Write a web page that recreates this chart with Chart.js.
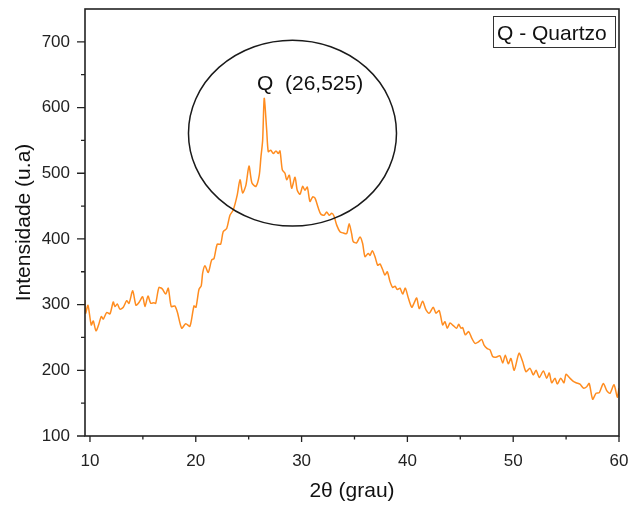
<!DOCTYPE html>
<html>
<head>
<meta charset="utf-8">
<script src="https://cdn.jsdelivr.net/npm/chart.js@4.4.1/dist/chart.umd.min.js"></script>
<style>
  html, body { margin: 0; padding: 0; background: #fff; }
  #wrap { width: 628px; height: 506px; }
</style>
</head>
<body>
<div id="wrap"><canvas id="xrd" width="628" height="506"></canvas></div>
<script>
var twoTheta = [9.53, 9.59, 9.81, 10.12, 10.31, 10.57, 10.85, 11.07, 11.26, 11.58, 11.89, 12.20, 12.36, 12.58, 12.84,
  13.15, 13.47, 13.69, 14.04, 14.35, 14.66, 14.98, 15.20, 15.48, 15.74, 16.05, 16.21, 16.52, 16.83, 17.16,
  17.40, 17.68, 18.01, 18.25, 18.67, 19.05, 19.45, 19.83, 20.02, 20.30, 20.52, 20.65, 20.87, 21.18, 21.50,
  21.72, 22.03, 22.35, 22.59, 22.92, 23.23, 23.54, 23.92, 24.18, 24.43, 24.74, 25.03, 25.31, 25.69, 26.00,
  26.16, 26.32, 26.47, 26.70, 26.85, 27.08, 27.33, 27.58, 27.80, 27.96, 28.18, 28.43, 28.59, 28.84, 29.06,
  29.38, 29.59, 29.85, 30.10, 30.32, 30.54, 30.79, 31.05, 31.27, 31.58, 31.81, 32.12, 32.37, 32.62, 32.85,
  33.06, 33.32, 33.63, 33.94, 34.26, 34.50, 34.73, 34.88, 35.20, 35.52, 35.77, 35.99, 36.30, 36.47, 36.68,
  36.94, 37.19, 37.41, 37.67, 37.88, 38.10, 38.36, 38.61, 38.83, 39.05, 39.30, 39.56, 39.80, 40.09, 40.41,
  40.62, 40.88, 41.12, 41.44, 41.76, 42.07, 42.44, 42.70, 43.01, 43.33, 43.55, 43.77, 44.03, 44.34, 44.66,
  44.85, 45.07, 45.23, 45.47, 45.79, 46.08, 46.39, 46.70, 47.02, 47.26, 47.55, 47.81, 48.06, 48.37, 48.75,
  49.01, 49.25, 49.54, 49.79, 50.10, 50.55, 50.90, 51.21, 51.59, 51.90, 52.16, 52.47, 52.85, 53.17, 53.41,
  53.64, 53.95, 54.17, 54.49, 54.80, 54.99, 55.30, 55.62, 55.94, 56.31, 56.63, 56.95, 57.18, 57.51, 57.83,
  58.14, 58.52, 58.84, 59.15, 59.53, 59.84, 60.00];
var intensidade = [307, 287, 299, 269, 275, 260, 271, 282, 278, 288, 286, 304, 297, 301, 293,
  296, 306, 302, 321, 299, 304, 312, 297, 313, 302, 303, 302, 326, 324, 316,
  325, 297, 298, 289, 264, 271, 267, 298, 296, 323, 329, 348, 359, 349, 368,
  370, 392, 392, 411, 416, 436, 444, 467, 490, 470, 482, 511, 485, 480, 497,
  525, 550, 614, 566, 533, 535, 530, 534, 530, 534, 505, 500, 490, 497, 477,
  494, 474, 468, 480, 474, 479, 457, 464, 462, 447, 438, 436, 441, 436, 439,
  435, 421, 411, 409, 408, 423, 408, 396, 394, 403, 393, 373, 378, 375, 382,
  373, 360, 362, 353, 345, 350, 335, 326, 328, 323, 325, 316, 325, 310, 296,
  302, 310, 294, 305, 292, 287, 296, 287, 291, 269, 274, 264, 272, 268, 264,
  270, 264, 265, 254, 259, 249, 241, 243, 247, 238, 233, 231, 221, 220, 222,
  211, 223, 210, 218, 200, 226, 213, 198, 203, 193, 200, 189, 199, 188, 196,
  181, 188, 179, 188, 181, 194, 189, 184, 181, 179, 173, 175, 180, 156, 165,
  166, 180, 169, 165, 178, 159, 173];
var xTicks = [10, 15, 20, 25, 30, 35, 40, 45, 50, 55, 60];
var yTicks = [100, 150, 200, 250, 300, 350, 400, 450, 500, 550, 600, 650, 700];

var pontos = [];
for (var i = 0; i < twoTheta.length; i++) {
  pontos.push({x: twoTheta[i], y: intensidade[i]});
}

var fonte = '"Liberation Sans", Arial, sans-serif';

// moldura, ticks maiores/menores, elipse e textos
var extras = {
  id: 'extras',
  afterDraw: function(chart) {
    var c = chart.ctx, a = chart.chartArea;
    var xs = chart.scales.x, ys = chart.scales.y;
    c.save();
    c.strokeStyle = '#222';
    c.lineWidth = 1.6;
    c.strokeRect(a.left, a.top, a.right - a.left, a.bottom - a.top);
    c.lineWidth = 1.3;
    c.beginPath();
    xTicks.forEach(function(v) {
      var px = xs.getPixelForValue(v);
      var len = (v % 10 === 0) ? 6 : 3.5;
      c.moveTo(px, a.bottom); c.lineTo(px, a.bottom + len);
    });
    yTicks.forEach(function(v) {
      var py = ys.getPixelForValue(v);
      var len = (v % 100 === 0) ? 8 : 4;
      c.moveTo(a.left, py); c.lineTo(a.left - len, py);
    });
    c.stroke();

    // elipse em volta do pico
    var cx = xs.getPixelForValue(29.14), cy = ys.getPixelForValue(561);
    var rx = xs.getPixelForValue(29.14 + 9.83) - cx;
    var ry = cy - ys.getPixelForValue(561 + 141.5);
    c.lineWidth = 1.5;
    c.strokeStyle = '#1a1a1a';
    c.beginPath();
    c.ellipse(cx, cy, rx, ry, 0, 0, Math.PI * 2);
    c.stroke();

    c.fillStyle = '#111';
    c.font = '21px ' + fonte;
    c.textBaseline = 'alphabetic';
    c.textAlign = 'left';
    c.fillText('Q  (26,525)', 257, 90);

    // caixa da legenda
    c.lineWidth = 1;
    c.strokeStyle = '#333';
    c.strokeRect(493.5, 16.5, 122, 31);
    c.fillText('Q - Quartzo', 497, 39.5);
    c.restore();
  }
};

var ctx = document.getElementById('xrd');
var grafico = new Chart(ctx, {
  type: 'line',
  data: {
    datasets: [{
      label: 'Amostra',
      data: pontos,
      borderColor: '#ff8c1f',
      borderWidth: 1.5,
      pointRadius: 0,
      tension: 0.25,
      fill: false
    }]
  },
  options: {
    responsive: false,
    animation: false,
    layout: { padding: { top: 9, right: 9, left: 0, bottom: 0 } },
    plugins: { legend: { display: false }, tooltip: { enabled: false } },
    scales: {
      x: {
        type: 'linear',
        min: 9.53,
        max: 60,
        afterBuildTicks: function(s) { s.ticks = xTicks.map(function(v) { return {value: v}; }); },
        afterFit: function(s) { s.height = 70; s.paddingLeft = 0; s.paddingRight = 0; },
        grid: { display: false },
        border: { display: false },
        ticks: {
          padding: 7,
          color: '#222',
          font: { family: fonte, size: 17 },
          maxRotation: 0,
          callback: function(v) { return v % 10 === 0 ? v : ''; }
        },
        title: {
          display: true,
          text: '2θ (grau)',
          color: '#111',
          font: { family: fonte, size: 21 },
          padding: { top: 0, bottom: 2 }
        }
      },
      y: {
        min: 100,
        max: 750,
        afterBuildTicks: function(s) { s.ticks = yTicks.map(function(v) { return {value: v}; }); },
        afterFit: function(s) { s.width = 85; s.paddingTop = 0; s.paddingBottom = 0; },
        grid: { display: false },
        border: { display: false },
        ticks: {
          padding: 7,
          color: '#222',
          font: { family: fonte, size: 17 },
          callback: function(v) { return v % 100 === 0 ? v : ''; }
        },
        title: {
          display: true,
          text: 'Intensidade (u.a)',
          color: '#111',
          font: { family: fonte, size: 21 },
          padding: { top: 12, bottom: 0 }
        }
      }
    }
  },
  plugins: [extras]
});
</script>
</body>
</html>
